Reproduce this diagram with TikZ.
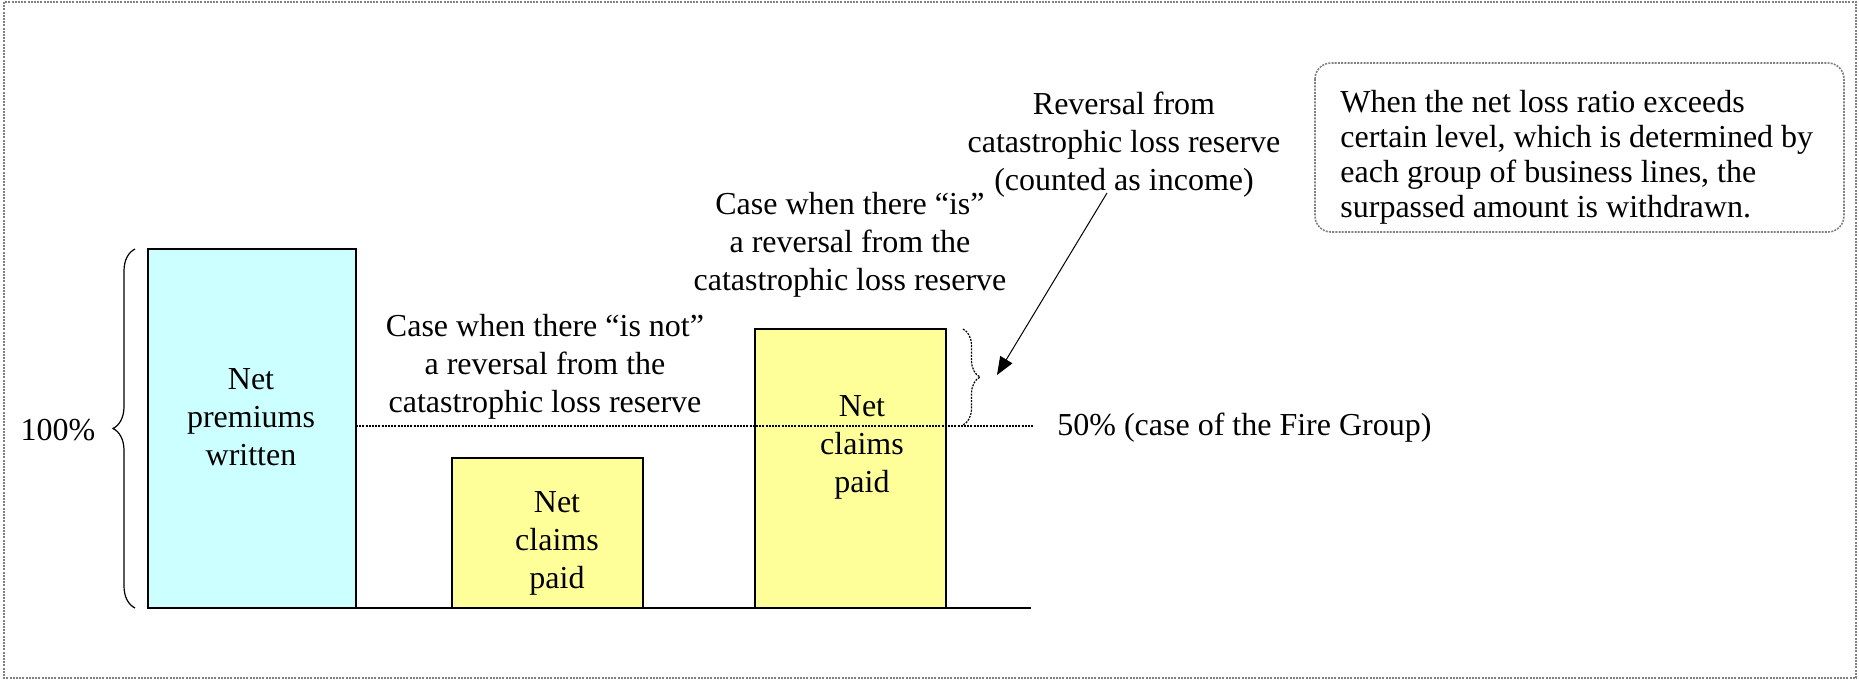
\documentclass[tikz,border=0pt]{standalone}
\usepackage{fontspec}
\setmainfont{Liberation Serif}
\usetikzlibrary{arrows.meta,decorations.pathreplacing}
\def\txt{\fontsize{16}{19}\selectfont}
\def\notetxt{\fontsize{16}{17.5}\selectfont}
\definecolor{premblue}{HTML}{CCFFFF}
\definecolor{claimyellow}{HTML}{FFFF99}
\tikzset{
	bar/.style={draw=black, line width=0.8pt},
	lbl/.style={inner sep=0pt, align=center, font=\txt},
	thinbrace/.style={decorate, line width=0.6pt},
	finedots/.style={dash pattern=on 1pt off 0.6pt},
}

\begin{document}
\begin{tikzpicture}[x=0.5pt, y=-0.5pt]
		%%%%% START %%%%%
		\useasboundingbox (0,0) rectangle (1859,680);
		\draw[gray, finedots, line width=0.8pt] (4,2) rectangle (1856,678);
		
		% bars and base line
		\draw[bar, fill=premblue] (148,249) rectangle (356,608);
		\draw[bar, fill=claimyellow] (452,458) rectangle (643,608);
		\draw[bar, fill=claimyellow] (755,329) rectangle (946,608);
		\draw[line width=1pt] (148,608) -- (1031,608);
		\draw[finedots, line width=0.8pt] (356,426) -- (1033,426);
		
		% braces
		\draw[thinbrace, decoration={brace, amplitude=11pt}] (135,608) -- (135,249);
		\draw[thinbrace, finedots, decoration={brace, amplitude=8.5pt}] (963,329) -- (963,425);
		
		\node[lbl] (premium) at (251,417) {Net\\premiums\\written};
		\node[lbl] (claimsno) at (557,543) {Net\\claims\\paid};
		\node[lbl] (claimsyes) at (862,447) {Net\\claims\\paid};
		\node[lbl] (hundred) at (58,430) {100\%};
		\node[lbl, anchor=west] (fifty) at (1057,428) {50\% (case of the Fire Group)};
		
		\node[lbl] (isnot) at (545,367) {Case when there “is not”\\a reversal from the\\catastrophic loss reserve};
		\node[lbl] (is) at (850,245) {Case when there “is”\\a reversal from the\\catastrophic loss reserve};
		\node[lbl] (reversal) at (1124,145) {Reversal from\\catastrophic loss reserve\\(counted as income)};
		
		\coordinate (arrowfrom) at (1107,193);
		\coordinate (arrowto) at (997,375);
		\draw[-{Triangle[length=9pt,width=7pt]}, line width=0.5pt] (arrowfrom) -- (arrowto);
		
		% note on the right
		\draw[gray, finedots, line width=0.8pt, rounded corners=8pt] (1315,63) rectangle (1844,232);
		\node[inner sep=0pt, align=left, font=\notetxt, anchor=west] (note) at (1340,157)
			{When the net loss ratio exceeds\\certain level, which is determined by\\each group of business lines, the\\surpassed amount is withdrawn.};
		
		%%%%% END %%%%%
\end{tikzpicture}
\end{document}
